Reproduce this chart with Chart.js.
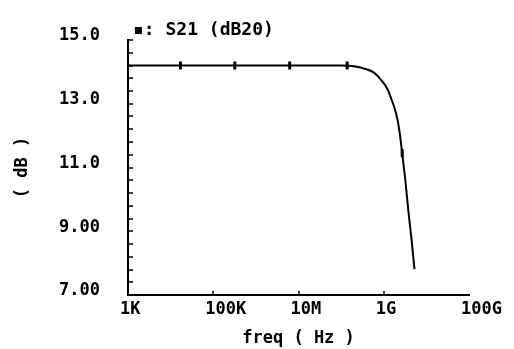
<!DOCTYPE html>
<html>
<head>
<meta charset="utf-8">
<script src="https://cdn.jsdelivr.net/npm/chart.js@4/dist/chart.umd.min.js"></script>
<style>
  html, body { margin: 0; padding: 0; background: #fff; }
  canvas { display: block; }
</style>
</head>
<body>
<canvas id="grafica" width="514" height="349"></canvas>
<script>
// datos
const frecuencias = [1e3, 1e4, 1e5, 1e6, 1e7, 5e7, 1e8, 2e8, 4e8, 6e8, 9e8, 1.24e9, 1.5e9, 1.8e9, 2.1e9, 2.35e9, 2.76e9, 3.24e9, 3.8e9, 4.47e9, 5.25e9];
const s21 = [14.2, 14.2, 14.2, 14.2, 14.2, 14.2, 14.2, 14.18, 14.08, 13.97, 13.72, 13.44, 13.15, 12.85, 12.5, 12.1, 11.34, 10.53, 9.59, 8.75, 7.81];

const frecMarcas = [1.7e4, 3.2e5, 6.2e6, 1.38e8, 2.7e9];
const s21Marcas = [14.2, 14.2, 14.2, 14.2, 11.45];

const xTicks = [1e3, 1e5, 1e7, 1e9, 1e11];
const xEtiquetas = ['1K', '100K', '10M', '1G', '100G'];
const yTicks = [7, 9, 11, 13, 15];
const yEtiquetas = ['7.00', '9.00', '11.0', '13.0', '15.0'];

const fuente = { family: 'DejaVu Sans Mono', size: 17, weight: 'bold' };

// ticks hacia adentro y titulo de la traza
const marcasInternas = {
    id: 'marcasInternas',
    afterDraw(chart) {
        const ctx = chart.ctx;
        const x = chart.scales.x;
        const y = chart.scales.y;
        ctx.save();
        ctx.strokeStyle = '#000';
        ctx.lineWidth = 1.5;
        ctx.beginPath();
        for (let i = 0; i <= 20; i++) {
            const py = Math.round(y.getPixelForValue(7 + i * 0.4));
            ctx.moveTo(x.left, py);
            ctx.lineTo(x.left + 5, py);
        }
        xTicks.slice(1, -1).forEach(v => {
            const px = Math.round(x.getPixelForValue(v));
            ctx.moveTo(px, y.bottom);
            ctx.lineTo(px, y.bottom - 4);
        });
        ctx.stroke();

        ctx.fillStyle = '#000';
        ctx.font = 'bold 18px "DejaVu Sans Mono"';
        ctx.textBaseline = 'alphabetic';
        ctx.fillText('\u25AA: S21 (dB20)', 133, 35);
        ctx.restore();
    }
};

new Chart(document.getElementById('grafica'), {
    type: 'line',
    data: {
        datasets: [{
            data: frecuencias.map((f, i) => ({ x: f, y: s21[i] })),
            borderColor: '#000',
            borderWidth: 2,
            pointRadius: 0,
            cubicInterpolationMode: 'monotone',
            fill: false
        }, {
            data: frecMarcas.map((f, i) => ({ x: f, y: s21Marcas[i] })),
            showLine: false,
            pointStyle: 'line',
            rotation: 90,
            pointRadius: 4,
            borderColor: '#000',
            borderWidth: 3
        }]
    },
    options: {
        responsive: false,
        animation: false,
        layout: { padding: { top: 40, right: 40, left: 0, bottom: 0 } },
        plugins: { legend: { display: false }, tooltip: { enabled: false } },
        scales: {
            x: {
                type: 'logarithmic',
                min: 1e3,
                max: 1e11,
                afterBuildTicks: s => { s.ticks = xTicks.map(v => ({ value: v })); },
                afterFit: s => { s.height = 54; },
                grid: { display: false, drawTicks: false },
                border: { color: '#000', width: 2 },
                ticks: {
                    color: '#000',
                    font: fuente,
                    padding: 4,
                    align: 'start',
                    labelOffset: -8,
                    maxRotation: 0,
                    autoSkip: false,
                    callback: (v, i) => xEtiquetas[i]
                },
                title: {
                    display: true,
                    text: 'freq ( Hz )',
                    color: '#000',
                    font: fuente,
                    padding: { top: 0, bottom: 0 }
                }
            },
            y: {
                min: 7,
                max: 15,
                afterBuildTicks: s => { s.ticks = yTicks.map(v => ({ value: v })); },
                afterFit: s => { s.width = 128; },
                grid: { display: false, drawTicks: false },
                border: { color: '#000', width: 2 },
                ticks: {
                    color: '#000',
                    font: fuente,
                    padding: 28,
                    labelOffset: -4,
                    autoSkip: false,
                    callback: (v, i) => yEtiquetas[i]
                },
                title: {
                    display: true,
                    text: '( dB )',
                    color: '#000',
                    font: fuente,
                    padding: { top: 12, bottom: 0 }
                }
            }
        }
    },
    plugins: [marcasInternas]
});
</script>
</body>
</html>
